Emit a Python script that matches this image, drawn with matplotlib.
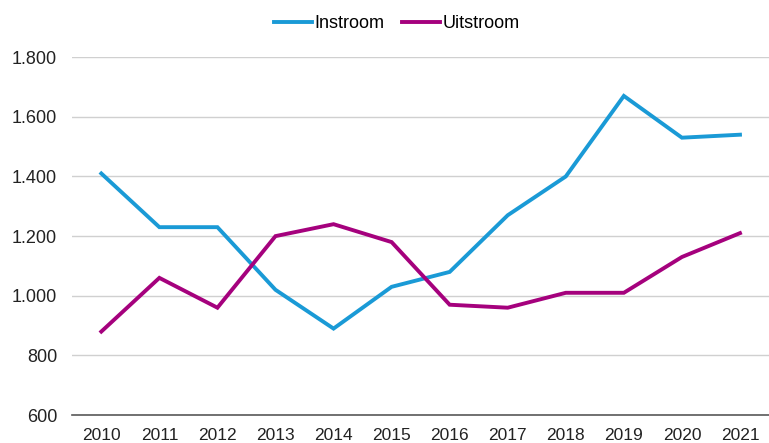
import matplotlib.pyplot as plt
from matplotlib.ticker import FuncFormatter

plt.rcParams['font.family'] = ['Liberation Sans', 'DejaVu Sans']

years = ['2010', '2011', '2012', '2013', '2014', '2015', '2016', '2017', '2018', '2019', '2020', '2021']
instroom = [1410, 1230, 1230, 1020, 890, 1030, 1080, 1270, 1400, 1670, 1530, 1540]
uitstroom = [880, 1060, 960, 1200, 1240, 1180, 970, 960, 1010, 1010, 1130, 1210]

fig = plt.figure(figsize=(7.69, 4.43), dpi=100)
ax = fig.add_axes([0.094, 0.063, 0.906, 0.808])

x = range(len(years))
ax.plot(x, instroom, color='#1a9ad6', lw=2.8, label='Instroom', solid_joinstyle='miter')
ax.plot(x, uitstroom, color='#a5017d', lw=2.8, label='Uitstroom', solid_joinstyle='miter')

ax.set_xlim(-0.5, len(years) - 0.5)
ax.set_ylim(600, 1800)
ax.set_yticks(range(600, 1801, 200))
ax.yaxis.set_major_formatter(FuncFormatter(lambda v, p: f'{int(v):,}'.replace(',', '.')))
ax.set_xticks(list(x))
ax.set_xticklabels(years)

ax.grid(axis='y', color='#d0d0d0', lw=1)
ax.set_axisbelow(True)
for s in ['top', 'right', 'left']:
    ax.spines[s].set_visible(False)
ax.spines['bottom'].set_color('#595959')
ax.spines['bottom'].set_linewidth(1.2)
ax.tick_params(axis='y', length=0, labelsize=13, colors='#222222', pad=11)
ax.tick_params(axis='x', length=0, labelsize=12.5, colors='#222222', pad=9)

ax.legend(loc='lower center', bbox_to_anchor=(0.466, 1.025), ncol=2, frameon=False,
          fontsize=13, handlelength=2.1, handletextpad=0.15, columnspacing=1.0)

fig.savefig('out.png', dpi=100)
